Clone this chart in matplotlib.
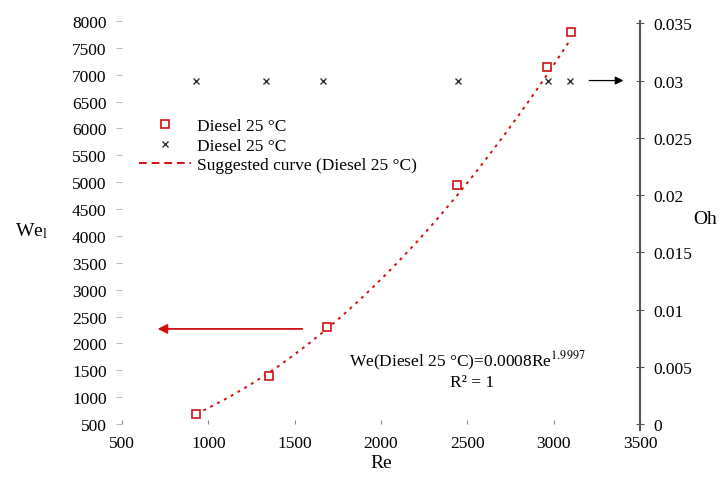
import numpy as np
import matplotlib.pyplot as plt
from matplotlib.lines import Line2D

plt.rcParams["font.family"] = ["Liberation Serif", "DejaVu Serif"]
plt.rcParams["mathtext.fontset"] = "stix"

# ---------------------------------------------------------------------------
# Data
# ---------------------------------------------------------------------------
re_we = [930, 1350, 1690, 2440, 2960, 3100]
we_l = [680, 1400, 2300, 4950, 7150, 7800]

re_oh = [930, 1335, 1665, 2445, 2965, 3095]
oh = [0.03, 0.03, 0.03, 0.03, 0.03, 0.03]

fit_coef = 0.0008
fit_exp = 1.9997

x_ticks = [500, 1000, 1500, 2000, 2500, 3000, 3500]
we_ticks = list(range(500, 8001, 500))
oh_ticks = [0, 0.005, 0.01, 0.015, 0.02, 0.025, 0.03, 0.035]
oh_labels = ["0", "0.005", "0.01", "0.015", "0.02", "0.025", "0.03", "0.035"]

# arrows pointing to the axis each series belongs to
we_arrow = ((1560, 2270), (690, 2270))
oh_arrow = ((3190, 0.03), (3420, 0.03))

red = "#d01010"
fs = 12.5

fig = plt.figure(figsize=(7.26, 4.85), dpi=100)
ax = fig.add_axes([0.168, 0.1237, 0.7135, 0.8309])
ax2 = ax.twinx()

# suggested power-law curve
re_fit = np.linspace(min(re_we), max(re_we), 200)
ax.plot(re_fit, fit_coef * re_fit ** fit_exp, color=red, lw=1.4,
        linestyle=(0, (1.5, 2.5)))
ax.plot(re_we, we_l, linestyle="none", marker="s", ms=6, mfc="white",
        mec=red, mew=1.2)

ax2.plot(re_oh, oh, linestyle="none", marker="x", ms=5, color="#333333",
         mew=1.0)

ax.annotate("", xy=we_arrow[1], xytext=we_arrow[0],
            arrowprops=dict(arrowstyle="-|>", color=red, lw=1.3,
                            mutation_scale=14))
ax2.annotate("", xy=oh_arrow[1], xytext=oh_arrow[0],
             arrowprops=dict(arrowstyle="-|>", color="black", lw=0.9,
                             mutation_scale=12))

ax.set_xlim(500, 3500)
ax.set_ylim(500, 8000)
ax2.set_ylim(0, 0.0352)
ax.set_xticks(x_ticks)
ax.set_yticks(we_ticks)
ax2.set_yticks(oh_ticks)
ax2.set_yticklabels(oh_labels)

for a in (ax, ax2):
    for s in ("top", "left", "bottom"):
        a.spines[s].set_visible(False)
ax.spines["right"].set_visible(False)
ax2.spines["right"].set_color("#555555")
ax2.spines["right"].set_linewidth(1.5)
ax2.spines["right"].set_bounds(-0.0005, 0.0352)

ax.tick_params(axis="y", direction="out", length=4, color="#bbbbbb",
               labelsize=fs, pad=7)
ax.tick_params(axis="x", direction="in", length=3, color="#888888",
               labelsize=fs, pad=8)
ax2.tick_params(axis="y", direction="inout", length=6, color="#555555",
                labelsize=fs, pad=7)

ax.set_xlabel("Re", fontsize=14, labelpad=2)
ax.set_ylabel("We$_\\mathregular{l}$", fontsize=14, rotation=0, va="center")
ax.yaxis.set_label_coords(-0.175, 0.48)
ax2.set_ylabel("Oh", fontsize=14, rotation=0, va="center")
ax2.yaxis.set_label_coords(1.125, 0.51)

ax.text(2500, 1690, "We(Diesel 25 °C)=0.0008Re$^{1.9997}$", fontsize=fs,
        ha="center", va="center")
ax.text(2530, 1280, "R² = 1", fontsize=fs, ha="center", va="center")

handles = [
    Line2D([], [], linestyle="none", marker="s", ms=6, mfc="white",
           mec=red, mew=1.2),
    Line2D([], [], linestyle="none", marker="x", ms=5, color="#333333"),
    Line2D([], [], color=red, lw=1.4, linestyle=(0, (4, 2.5))),
]
labels = ["Diesel 25 °C", "Diesel 25 °C", "Suggested curve (Diesel 25 °C)"]
ax2.legend(handles, labels, loc="upper left", bbox_to_anchor=(0.02, 0.777),
           frameon=False, fontsize=fs, handlelength=3.0, handletextpad=0.35,
           labelspacing=0.2, borderaxespad=0)

fig.savefig("out.png", dpi=100)
